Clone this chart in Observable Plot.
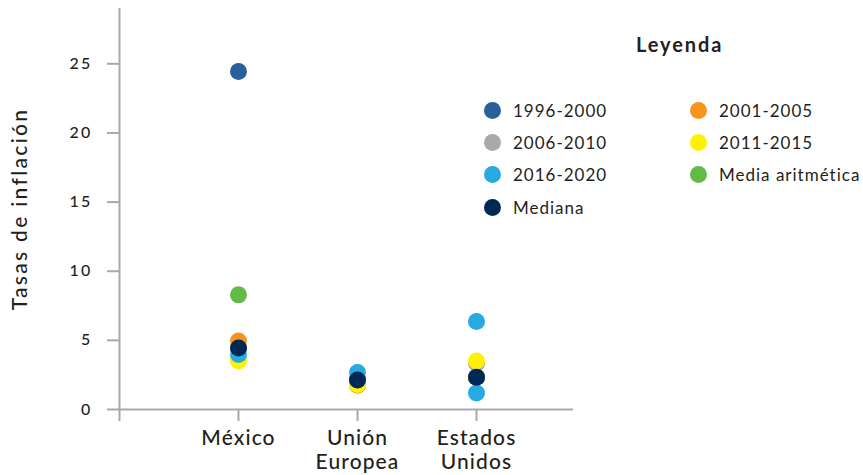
<!DOCTYPE html>
<html>
<head>
<meta charset="utf-8">
<script src="https://cdn.jsdelivr.net/npm/d3@7"></script>
<script src="https://cdn.jsdelivr.net/npm/@observablehq/plot@0.6"></script>
<style>
  html, body { margin: 0; padding: 0; background: #fff; }
  #wrap { position: relative; width: 863px; height: 475px; font-family: Lato, sans-serif; color: #231F20; }
  #wrap svg { position: absolute; left: 0; top: 0; }
  #wrap svg g[aria-label="y-axis tick label"] text { letter-spacing: 2.2px; font-weight: 500; }
  #wrap svg g[aria-label="x-axis tick label"] text { letter-spacing: 1.1px; font-weight: 500; }
  #wrap svg g[aria-label="text"] text { letter-spacing: 2.3px; font-weight: 500; }
  #legTitle { position: absolute; left: 636px; top: 31px; font-size: 20px; font-weight: 700; line-height: 26px; letter-spacing: 1.9px; }
  #legend { position: absolute; left: 483.5px; top: 94px; display: grid; grid-template-columns: 206px auto; grid-auto-rows: 32.3px; }
  .item { display: flex; align-items: center; font-size: 17px; letter-spacing: 1px; white-space: nowrap; }
  .sw { width: 17px; height: 17px; border-radius: 50%; margin-right: 12.5px; flex: none; }
</style>
</head>
<body>
<div id="wrap"><div id="legTitle">Leyenda</div><div id="legend"></div></div>
<script>
// Categories (first blank entry marks the vertical axis position)
const axisSlot = "";
const countries = ["México", "Unión\nEuropea", "Estados\nUnidos"];
const series = ["1996-2000", "2001-2005", "2006-2010", "2011-2015", "2016-2020", "Media aritmética", "Mediana"];
const colors = ["#2A5F9E", "#F7941D", "#A7A9AC", "#FFF200", "#27AAE1", "#62BB46", "#002855"];
const yTicks = [0, 5, 10, 15, 20, 25];
const yLabel = "Tasas de inflación";
const legendTitle = "Leyenda";

// Values per country [México, Unión Europea, Estados Unidos]
const v1996_2000 = [24.45, 2.14, 2.34];
const v2001_2005 = [4.95, 1.75, 2.34];
const v2006_2010 = [4.4, 2.14, 3.35];
const v2011_2015 = [3.5, 1.8, 3.5];
const v2016_2020 = [3.97, 2.68, 1.2];
const vMedia = [8.29, 2.14, 2.34];
const vMediana = [4.45, 2.14, 2.34];
// extra light-blue point shown for Estados Unidos
const extraCountry = ["Estados\nUnidos"];
const extraSeries = ["2016-2020"];
const extraValue = [6.36];

const seriesValues = [v1996_2000, v2001_2005, v2006_2010, v2011_2015, v2016_2020, vMedia, vMediana];
const rows = [];
series.forEach((s, i) => {
  countries.forEach((c, j) => rows.push({country: c, series: s, value: seriesValues[i][j]}));
  extraSeries.forEach((es, k) => { if (es === s) rows.push({country: extraCountry[k], series: es, value: extraValue[k]}); });
});

const gray = "#A7A9AC";
const ink = "#231F20";

const chart = Plot.plot({
  width: 863,
  height: 475,
  marginLeft: 119,
  marginRight: 290,
  marginTop: 8,
  marginBottom: 66,
  x: {type: "point", domain: [axisSlot, ...countries], range: [119, 476], padding: 0},
  y: {domain: [0, 29], range: [409, 8]},
  color: {domain: series, range: colors},
  style: {fontFamily: "Lato, sans-serif", color: ink, background: "transparent", overflow: "visible"},
  marks: [
    Plot.ruleY([0], {stroke: gray, strokeWidth: 2}),
    Plot.ruleX([axisSlot], {stroke: gray, strokeWidth: 2}),
    Plot.axisY({ticks: yTicks, tickSize: 12, tickPadding: 15, fontSize: 16, stroke: gray, strokeWidth: 2, fill: ink, label: null}),
    Plot.axisX({tickSize: 12, tickPadding: 6, fontSize: 21, lineHeight: 1.15, stroke: gray, strokeWidth: 2, fill: ink, label: null}),
    Plot.text([yLabel], {frameAnchor: "left", textAnchor: "middle", lineAnchor: "middle", rotate: -90, dx: -99, fontSize: 21, fill: ink}),
    Plot.dot(rows, {x: "country", y: "value", fill: "series", r: 8.5})
  ]
});
document.getElementById("wrap").prepend(chart);

document.getElementById("legTitle").textContent = legendTitle;
const legend = document.getElementById("legend");
series.forEach((s, i) => {
  const item = document.createElement("div");
  item.className = "item";
  const sw = document.createElement("span");
  sw.className = "sw";
  sw.style.background = colors[i];
  item.appendChild(sw);
  item.appendChild(document.createTextNode(s));
  legend.appendChild(item);
});
</script>
</body>
</html>
